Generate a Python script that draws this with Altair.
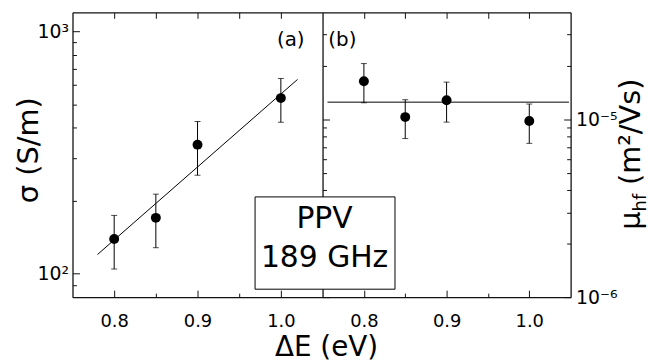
import altair as alt
import pandas as pd

FONT = "DejaVu Sans"

# ---- data ----
dE = [0.80, 0.85, 0.90, 1.00]

sigma = [139, 170, 341, 531]
sigma_lo = [104.5, 128, 255, 422]
sigma_hi = [174, 213, 425, 640]
fit_dE = [0.78, 1.02]
fit_sigma = [120, 634]

mu = [1.64e-5, 1.03e-5, 1.28e-5, 0.98e-5]
mu_lo = [1.24e-5, 0.78e-5, 0.965e-5, 0.733e-5]
mu_hi = [2.06e-5, 1.29e-5, 1.62e-5, 1.22e-5]
mu_fit_dE = [0.756, 1.048]
mu_fit = [1.25e-5, 1.25e-5]

# tick positions / labels
x_major = [0.8, 0.9, 1.0]
x_minor = [0.85, 0.95]
x_all = [0.8, 0.85, 0.9, 0.95, 1.0]
s_major = [100, 1000]
s_minor = [90, 200, 300, 400, 500, 600, 700, 800, 900]
m_major = [1e-6, 1e-5]
m_minor = [2e-6, 3e-6, 4e-6, 5e-6, 6e-6, 7e-6, 8e-6, 9e-6, 2e-5, 3e-5]

panel_labels = ["(a)", "(b)"]
box_lines = ["PPV", "189 GHz"]
x_title = "ΔE (eV)"
y_left_title = "σ (S/m)"
y_right_title = ["μ", "hf", "(m²/Vs)"]

df_s = pd.DataFrame({"dE": dE, "val": sigma, "lo": sigma_lo, "hi": sigma_hi})
df_sfit = pd.DataFrame({"dE": fit_dE, "val": fit_sigma})
df_m = pd.DataFrame({"dE": dE, "val": mu, "lo": mu_lo, "hi": mu_hi})
df_mfit = pd.DataFrame({"dE": mu_fit_dE, "val": mu_fit})

W_L, W_R, H = 252, 250, 287

xs = alt.Scale(domain=[0.75, 1.05], nice=False, zero=False)
ys = alt.Scale(type="log", domain=[80, 1200], nice=False)
ym = alt.Scale(type="log", domain=[1e-6, 4e-5], nice=False)

LINE = "#111"


def label_axis(orient, values, expr, pad, size, align=None):
    kw = dict(orient=orient, values=values, title=None, grid=False, ticks=False,
              domain=True, domainColor=LINE, domainWidth=1.3,
              labels=True, labelExpr=expr, labelPadding=pad,
              labelFont=FONT, labelFontSize=size, labelColor="black",
              labelFlush=False, labelOverlap=False)
    if align:
        kw["labelAlign"] = align
    return alt.Axis(**kw)


def tick_axis(orient, offset, values, size, domain=False):
    # an axis moved onto the opposite edge so that its outward ticks point into the plot
    return alt.Axis(orient=orient, offset=offset, values=values, title=None, grid=False,
                    labels=False, ticks=True, tickSize=size, tickColor=LINE, tickWidth=1,
                    domain=domain, domainColor=LINE, domainWidth=1.3)


def text_layer(txt, x, y, size, angle=0, align="center", baseline="alphabetic"):
    kw = dict(font=FONT, fontSize=size, color="black", align=align, baseline=baseline)
    if angle:
        kw["angle"] = angle
    return alt.Chart(pd.DataFrame({"t": [txt]})).mark_text(**kw).encode(
        x=alt.value(x), y=alt.value(y), text="t:N")


def panel(df, dffit, yscale, xaxes, yaxes):
    base = alt.Chart(df)
    fit = alt.Chart(dffit).mark_line(color="black", strokeWidth=1).encode(
        x=alt.X("dE:Q", scale=xs, axis=xaxes[0]),
        y=alt.Y("val:Q", scale=yscale, axis=yaxes[0]))
    err = base.mark_rule(color="black", strokeWidth=1).encode(
        x=alt.X("dE:Q", scale=xs, axis=xaxes[1]),
        y=alt.Y("lo:Q", scale=yscale, axis=yaxes[1]),
        y2="hi:Q")
    cap_hi = base.mark_tick(color="black", size=6, thickness=1, orient="horizontal").encode(
        x=alt.X("dE:Q", scale=xs, axis=xaxes[2]),
        y=alt.Y("hi:Q", scale=yscale, axis=yaxes[2]))
    cap_lo = base.mark_tick(color="black", size=6, thickness=1, orient="horizontal").encode(
        x=alt.X("dE:Q", scale=xs, axis=xaxes[3]),
        y=alt.Y("lo:Q", scale=yscale, axis=yaxes[3]))
    pts = base.mark_circle(size=100, color="black", opacity=1).encode(
        x=alt.X("dE:Q", scale=xs, axis=xaxes[4]),
        y=alt.Y("val:Q", scale=yscale, axis=yaxes[4]))
    return [fit, err, cap_hi, cap_lo, pts]


X_EXPR = "format(datum.value, '.1f')"


def x_axes():
    return [
        label_axis("bottom", x_major, X_EXPR, 16, 18),
        tick_axis("top", -H, x_major, 7),          # bottom edge, major
        tick_axis("top", -H, x_minor, 4),          # bottom edge, minor
        tick_axis("bottom", -H, x_all, 6, True),   # top edge (+ top border)
        None,
    ]


left_y = [
    label_axis("left", s_major, "datum.value == 100 ? '10²' : '10³'", 4, 19),
    tick_axis("right", -W_L, s_major, 7),
    tick_axis("right", -W_L, s_minor, 4),
    None,
    None,
]
right_y = [
    label_axis("right", m_major, "datum.value < 5e-6 ? '10⁻⁶' : '10⁻⁵'", 5, 19, "left"),
    tick_axis("left", -W_R, m_major, 7),
    tick_axis("left", -W_R, m_minor, 4),
    tick_axis("right", -W_R, m_major, 7, True),   # left edge (divider)
    tick_axis("right", -W_R, m_minor, 4),
]

left_layers = panel(df_s, df_sfit, ys, x_axes(), left_y)
left_layers += [
    text_layer(panel_labels[0], 220, 34, 20),
    text_layer(y_left_title, -35, 139, 29, angle=270),
    text_layer(x_title, 256, 346, 28),
]
left = alt.layer(*left_layers).resolve_axis(x="independent", y="independent").properties(
    width=W_L, height=H)

box = alt.Chart(pd.DataFrame({"b": [0]})).mark_rect(
    fill="white", stroke="black", strokeWidth=1).encode(
    x=alt.value(-68), x2=alt.value(73), y=alt.value(186), y2=alt.value(279))

right_layers = panel(df_m, df_mfit, ym, x_axes(), right_y)
right_layers += [
    box,
    text_layer(box_lines[0], 2, 217, 30),
    text_layer(box_lines[1], 2, 257, 30),
    text_layer(panel_labels[1], 20, 34, 20),
    text_layer(y_right_title[0], 320, 219, 29, angle=270, align="left"),
    text_layer(y_right_title[1], 326, 200.6, 18, angle=270, align="left"),
    text_layer(y_right_title[2], 320, 174, 29, angle=270, align="left"),
]
right = alt.layer(*right_layers).resolve_axis(x="independent", y="independent").properties(
    width=W_R, height=H)

chart = alt.hconcat(left, right, spacing=0, bounds="flush").properties(
    padding={"left": 7, "top": 2, "right": 0, "bottom": 0},
    background="white",
).configure_view(strokeWidth=0)

chart.save("out.html", embed_options={"renderer": "svg", "actions": False})
